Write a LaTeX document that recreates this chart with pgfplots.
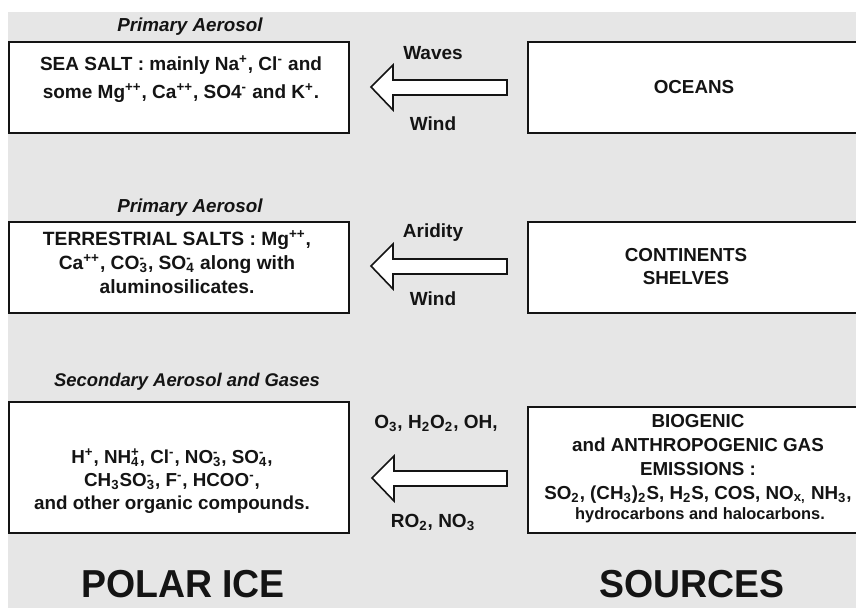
\documentclass[border=0pt]{standalone}
\usepackage{pgfplots}
\pgfplotsset{compat=1.18}
\usepackage{fontspec}
\setmainfont{Liberation Sans}
\definecolor{bg}{HTML}{E6E6E6}
\definecolor{ink}{HTML}{141414}
\newcommand{\up}[1]{\textsuperscript{#1}}
\newcommand{\dn}[1]{\textsubscript{#1}}
\newcommand{\ud}[2]{\ooalign{\textsubscript{#1}\cr\textsuperscript{#2}\cr}}
\begin{document}
\begin{tikzpicture}
\begin{axis}[
    scale only axis,
    width=428pt, height=304pt,
    xmin=0, xmax=856, ymin=0, ymax=608,
    y dir=reverse,
    axis lines=none,
    clip=true,
]
% background
\addplot[draw=none, fill=white] coordinates {(0,0) (856,0) (856,608) (0,608)} -- cycle;
\addplot[draw=none, fill=bg] coordinates {(8,12) (860,12) (860,612) (8,612)} -- cycle;

% left boxes
\addplot[draw=ink, fill=white, line width=1pt] coordinates {(9,42) (349,42) (349,133) (9,133)} -- cycle;
\addplot[draw=ink, fill=white, line width=1pt] coordinates {(9,222) (349,222) (349,313) (9,313)} -- cycle;
\addplot[draw=ink, fill=white, line width=1pt] coordinates {(9,402) (349,402) (349,533) (9,533)} -- cycle;
% right boxes
\addplot[draw=ink, fill=white, line width=1pt] coordinates {(528,42) (862,42) (862,133) (528,133)} -- cycle;
\addplot[draw=ink, fill=white, line width=1pt] coordinates {(528,222) (862,222) (862,313) (528,313)} -- cycle;
\addplot[draw=ink, fill=white, line width=1pt] coordinates {(528,407) (862,407) (862,533) (528,533)} -- cycle;

% arrows
\addplot[draw=ink, fill=white, line width=0.8pt, line join=miter] coordinates {(371,87) (393,65) (393,80) (507,80) (507,95) (393,95) (393,110)} -- cycle;
\addplot[draw=ink, fill=white, line width=0.8pt, line join=miter] coordinates {(371,266) (393,244) (393,259) (507,259) (507,274) (393,274) (393,289)} -- cycle;
\addplot[draw=ink, fill=white, line width=0.8pt, line join=miter] coordinates {(372,478) (394,456) (394,471) (507,471) (507,486) (394,486) (394,501)} -- cycle;

% headings
\node[text=ink, font=\fontsize{9.4}{11}\bfseries\itshape] at (axis cs:190,27) {Primary Aerosol};
\node[text=ink, font=\fontsize{9.4}{11}\bfseries\itshape] at (axis cs:190,208) {Primary Aerosol};
\node[text=ink, font=\fontsize{9.2}{11}\bfseries\itshape] at (axis cs:187,382) {Secondary Aerosol and Gases};

% box texts
\node[text=ink, align=center, font=\fontsize{9.5}{14}\bfseries] at (axis cs:181,79)
  {SEA SALT : mainly Na\up{+}, Cl\up{-} and\\some Mg\up{++}, Ca\up{++}, SO4\up{-} and K\up{+}.};
\node[text=ink, align=center, font=\fontsize{9.6}{12}\bfseries] at (axis cs:177,262)
  {TERRESTRIAL SALTS : Mg\up{++},\\Ca\up{++}, CO\ud{3}{-}, SO\ud{4}{-} along with\\aluminosilicates.};
\node[text=ink, align=center, font=\fontsize{9.4}{11.5}\bfseries] at (axis cs:172,481)
  {H\up{+}, NH\ud{4}{+}, Cl\up{-}, NO\ud{3}{-}, SO\ud{4}{-},\\CH\dn{3}SO\ud{3}{-}, F\up{-}, HCOO\up{-},\\and other organic compounds.};

\node[text=ink, font=\fontsize{9.4}{12}\bfseries] at (axis cs:694,87) {OCEANS};
\node[text=ink, align=center, font=\fontsize{9.4}{11.5}\bfseries] at (axis cs:686,267) {CONTINENTS\\SHELVES};
\node[text=ink, align=center, font=\fontsize{9.4}{12}\bfseries] at (axis cs:698,459)
  {BIOGENIC\\and ANTHROPOGENIC GAS\\EMISSIONS :\\SO\dn{2}, (CH\dn{3})\dn{2}S, H\dn{2}S, COS, NO\dn{x,} NH\dn{3},};
\node[text=ink, font=\fontsize{8.2}{9}\bfseries] at (axis cs:700,515) {hydrocarbons and halocarbons.};

% arrow labels
\node[text=ink, font=\fontsize{9.5}{11}\bfseries] at (axis cs:433,53) {Waves};
\node[text=ink, font=\fontsize{9.5}{11}\bfseries] at (axis cs:433,124) {Wind};
\node[text=ink, font=\fontsize{9.5}{11}\bfseries] at (axis cs:433,233) {Aridity};
\node[text=ink, font=\fontsize{9.5}{11}\bfseries] at (axis cs:433,299) {Wind};
\node[text=ink, font=\fontsize{9.5}{11}\bfseries] at (axis cs:436,423) {O\dn{3}, H\dn{2}O\dn{2}, OH,};
\node[text=ink, font=\fontsize{9.5}{11}\bfseries] at (axis cs:433,522) {RO\dn{2}, NO\dn{3}};

% footer titles
\node[text=ink, font=\fontsize{19.5}{22}\bfseries] at (axis cs:183,584) {\scalebox{0.96}[1]{POLAR ICE}};
\node[text=ink, font=\fontsize{19.5}{22}\bfseries] at (axis cs:692,584) {\scalebox{0.96}[1]{SOURCES}};
\end{axis}
\end{tikzpicture}
\end{document}
